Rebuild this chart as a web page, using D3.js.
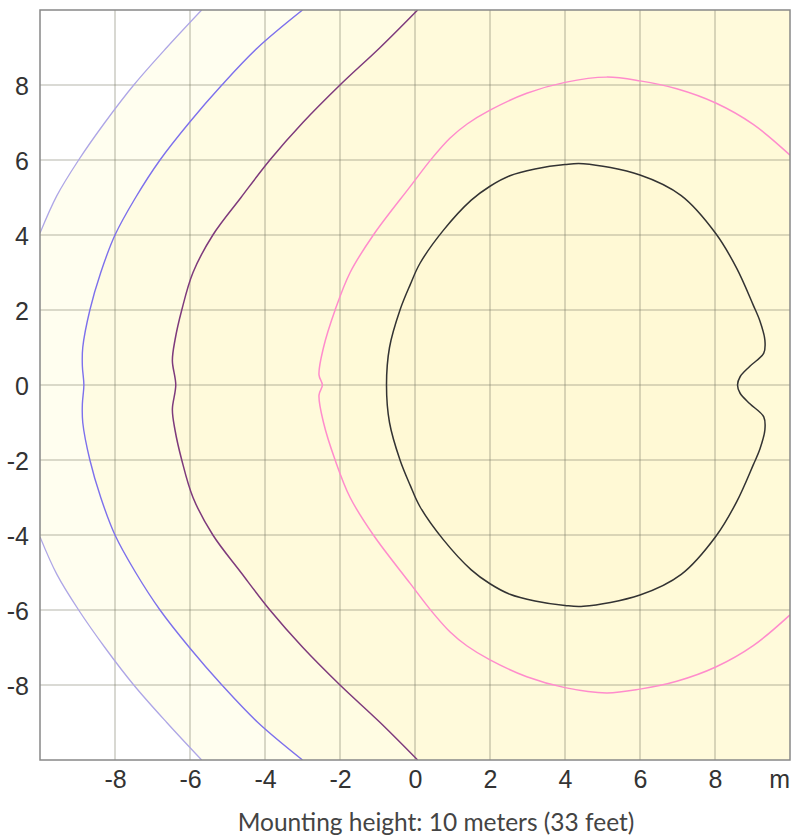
<!DOCTYPE html>
<html>
<head>
<meta charset="utf-8">
<script src="https://cdn.jsdelivr.net/npm/d3@7"></script>
<style>
  html, body { margin: 0; padding: 0; background: #ffffff; }
  svg { display: block; }
</style>
</head>
<body>
<script>
// Isolux contours of a tilted luminaire, plan view (metres).
const xTicks = [-8, -6, -4, -2, 0, 2, 4, 6, 8];
const yTicks = [-8, -6, -4, -2, 0, 2, 4, 6, 8];
const xTickLabels = ["-8", "-6", "-4", "-2", "0", "2", "4", "6", "8"];
const yTickLabels = ["-8", "-6", "-4", "-2", "0", "2", "4", "6", "8"];
const unitLabel = "m";
const caption = "Mounting height: 10 meters (33 feet)";

// Outermost contour leaves the plot on the left, so it is kept as two pieces.
const lavenderTop = [[-5.69, 10], [-6.62, 9], [-7.5, 8], [-8.27, 7], [-8.97, 6], [-9.55, 5.05], [-10, 4.05]];
const lavenderBottom = [[-10, -4.05], [-9.55, -5.05], [-8.97, -6], [-8.27, -7], [-7.5, -8], [-6.62, -9], [-5.69, -10]];

const blueLine = [
  [-3.0, 10], [-4.19, 9], [-5.15, 8], [-6.0, 7.02], [-6.8, 6], [-7.45, 5], [-8.0, 4], [-8.38, 3],
  [-8.67, 2], [-8.86, 1], [-8.87, 0.5], [-8.83, 0],
  [-8.87, -0.5], [-8.86, -1], [-8.67, -2], [-8.38, -3], [-8.0, -4], [-7.45, -5], [-6.8, -6],
  [-6.0, -7.02], [-5.15, -8], [-4.19, -9], [-3.0, -10]
];

const purpleLine = [
  [0.07, 10], [-0.93, 9], [-2.0, 8], [-2.99, 7], [-3.87, 6], [-4.64, 5], [-5.39, 4], [-5.92, 3],
  [-6.22, 2], [-6.4, 1.2], [-6.47, 0.65], [-6.38, 0],
  [-6.47, -0.65], [-6.4, -1.2], [-6.22, -2], [-5.92, -3], [-5.39, -4], [-4.64, -5], [-3.87, -6],
  [-2.99, -7], [-2.0, -8], [-0.93, -9], [0.07, -10]
];

const pinkLine = [
  [10, 6.13], [9.02, 6.95], [8.02, 7.52], [6.98, 7.9], [6.0, 8.11], [5.11, 8.21], [4.0, 8.07],
  [2.98, 7.78], [2.0, 7.33], [1.39, 6.96], [0.93, 6.58], [0.44, 6.03], [-0.13, 5.29], [-1.11, 4],
  [-1.73, 3], [-2.13, 2], [-2.44, 1], [-2.56, 0.27], [-2.47, 0],
  [-2.56, -0.27], [-2.44, -1], [-2.13, -2], [-1.73, -3], [-1.11, -4], [-0.13, -5.29], [0.44, -6.03],
  [0.93, -6.58], [1.39, -6.96], [2.0, -7.33], [2.98, -7.78], [4.0, -8.07], [5.11, -8.21], [6.0, -8.11],
  [6.98, -7.9], [8.02, -7.52], [9.02, -6.95], [10, -6.13]
];

const blackLoop = [
  [-0.76, 0], [-0.68, 1], [-0.4, 2], [-0.13, 2.67], [0.13, 3.24], [0.76, 4.13], [1.5, 4.93],
  [2.0, 5.3], [2.53, 5.58], [3.2, 5.76], [4.0, 5.88], [4.49, 5.9], [6.0, 5.6], [7.1, 5.05],
  [8.02, 4.04], [8.58, 3.11], [9.02, 2.13], [9.2, 1.7], [9.33, 1.2], [9.3, 0.85], [8.93, 0.5],
  [8.67, 0.22], [8.6, 0],
  [8.67, -0.22], [8.93, -0.5], [9.3, -0.85], [9.33, -1.2], [9.2, -1.7], [9.02, -2.13],
  [8.58, -3.11], [8.02, -4.04], [7.1, -5.05], [6.0, -5.6], [4.49, -5.9], [4.0, -5.88],
  [3.2, -5.76], [2.53, -5.58], [2.0, -5.3], [1.5, -4.93], [0.76, -4.13], [0.13, -3.24],
  [-0.13, -2.67], [-0.4, -2], [-0.68, -1]
];

const W = 792, H = 836;
const plot = { left: 40, right: 790, top: 10, bottom: 760 };

const x = d3.scaleLinear().domain([-10, 10]).range([plot.left, plot.right]);
const y = d3.scaleLinear().domain([-10, 10]).range([plot.bottom, plot.top]);

const svg = d3.select("body").append("svg").attr("width", W).attr("height", H);

svg.append("defs").append("clipPath").attr("id", "plotClip")
  .append("rect")
  .attr("x", plot.left).attr("y", plot.top)
  .attr("width", plot.right - plot.left).attr("height", plot.bottom - plot.top);

const line = d3.line().x(d => x(d[0])).y(d => y(d[1])).curve(d3.curveCatmullRom.alpha(0.5));
const loop = d3.line().x(d => x(d[0])).y(d => y(d[1])).curve(d3.curveCatmullRomClosed.alpha(0.5));
const pt = (a, b) => "L" + x(a) + "," + y(b);
const seg = pts => line(pts).slice(1); // path body without the leading "M"

const g = svg.append("g").attr("clip-path", "url(#plotClip)");

// background
g.append("rect")
  .attr("x", plot.left).attr("y", plot.top)
  .attr("width", plot.right - plot.left).attr("height", plot.bottom - plot.top)
  .attr("fill", "#ffffff");

// filled bands, outer to inner
const bands = [
  { d: line(lavenderTop) + "L" + seg(lavenderBottom) + pt(10, -10) + pt(10, 10) + "Z", fill: "#fffeef" },
  { d: line(blueLine) + pt(10, -10) + pt(10, 10) + "Z", fill: "#fffce3" },
  { d: line(purpleLine) + pt(10, -10) + pt(10, 10) + "Z", fill: "#fffadb" },
  { d: line(pinkLine) + "Z", fill: "#fffad8" },
  { d: loop(blackLoop), fill: "#fff9d5" }
];
g.selectAll("path.band").data(bands).join("path")
  .attr("class", "band")
  .attr("d", d => d.d)
  .attr("fill", d => d.fill)
  .attr("stroke", "none");

// grid
const gridColor = "rgba(120,120,100,0.36)";
g.selectAll("line.vgrid").data(xTicks).join("line")
  .attr("class", "vgrid")
  .attr("x1", d => x(d)).attr("x2", d => x(d))
  .attr("y1", plot.top).attr("y2", plot.bottom)
  .attr("stroke", gridColor).attr("stroke-width", 1.6);
g.selectAll("line.hgrid").data(yTicks).join("line")
  .attr("class", "hgrid")
  .attr("y1", d => y(d)).attr("y2", d => y(d))
  .attr("x1", plot.left).attr("x2", plot.right)
  .attr("stroke", gridColor).attr("stroke-width", 1.6);

// contour lines
const contours = [
  { d: line(lavenderTop), color: "#aea6e6", w: 1.3 },
  { d: line(lavenderBottom), color: "#aea6e6", w: 1.3 },
  { d: line(blueLine), color: "#7d70ec", w: 1.4 },
  { d: line(purpleLine), color: "#7e3a7c", w: 1.5 },
  { d: line(pinkLine), color: "#ff8ccc", w: 1.5 },
  { d: loop(blackLoop), color: "#333333", w: 1.5 }
];
g.selectAll("path.contour").data(contours).join("path")
  .attr("class", "contour")
  .attr("d", d => d.d)
  .attr("fill", "none")
  .attr("stroke", d => d.color)
  .attr("stroke-width", d => d.w);

// frame
svg.append("rect")
  .attr("x", plot.left).attr("y", plot.top)
  .attr("width", plot.right - plot.left).attr("height", plot.bottom - plot.top)
  .attr("fill", "none").attr("stroke", "#888888").attr("stroke-width", 1.5);

// axes
const tickFont = "'Liberation Sans', Arial, Helvetica, sans-serif";
const xAxis = d3.axisBottom(x).tickValues(xTicks).tickSize(0).tickPadding(0)
  .tickFormat((d, i) => xTickLabels[i]);
const yAxis = d3.axisLeft(y).tickValues(yTicks).tickSize(0).tickPadding(0)
  .tickFormat((d, i) => yTickLabels[i]);

const gx = svg.append("g").attr("transform", `translate(0,${plot.bottom})`).call(xAxis);
gx.attr("font-family", tickFont);
gx.select(".domain").remove();
gx.selectAll("text")
  .attr("y", 28).attr("dy", 0)
  .style("font-family", tickFont).style("font-size", "25px").attr("fill", "#333");

const gy = svg.append("g").attr("transform", `translate(29,0)`).call(yAxis);
gy.attr("font-family", tickFont);
gy.select(".domain").remove();
gy.selectAll("text")
  .attr("x", 0).attr("dy", "0.36em")
  .style("font-family", tickFont).style("font-size", "25px").attr("fill", "#333");

svg.append("text")
  .attr("x", x(10)).attr("y", plot.bottom + 28)
  .attr("text-anchor", "end")
  .style("font-family", tickFont).style("font-size", "25px").attr("fill", "#333")
  .text(unitLabel);

svg.append("text")
  .attr("x", 436).attr("y", 831)
  .attr("text-anchor", "middle")
  .style("font-family", "Lato, 'Open Sans', sans-serif").style("font-size", "24.5px").attr("fill", "#444")
  .text(caption);
</script>
</body>
</html>
